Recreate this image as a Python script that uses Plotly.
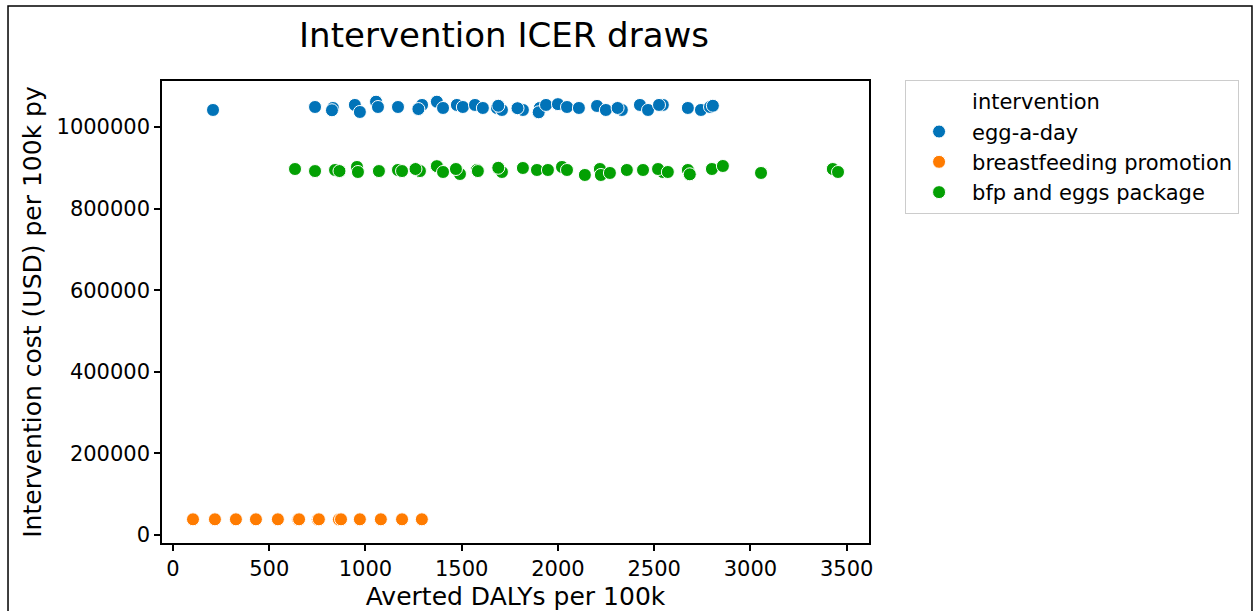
import plotly.graph_objects as go

# ---- data ----
egg_x = [208, 738, 831, 826, 945, 971, 1055, 1065, 1169, 1294, 1275, 1371, 1403, 1475, 1506,
         1569, 1610, 1683, 1709, 1690, 1818, 1790, 1906, 1900, 1938, 2000, 2047, 2109, 2203,
         2249, 2332, 2310, 2426, 2468, 2545, 2525, 2675, 2743, 2790, 2805]
egg_y = [1041700, 1049000, 1046600, 1041000, 1054000, 1036800, 1062000, 1049000, 1049000,
         1054000, 1044000, 1062000, 1046600, 1054000, 1049000, 1054000, 1046600, 1046600,
         1041700, 1052000, 1041700, 1046000, 1046600, 1036000, 1054000, 1056000, 1049000,
         1046600, 1051500, 1041700, 1041700, 1046600, 1054000, 1041700, 1054000, 1054000,
         1046600, 1041700, 1049000, 1052000]

bfp_x = [104, 218, 327, 431, 545, 650, 655, 752, 758, 862, 873, 971, 1080, 1190, 1293]
bfp_y = [38500, 38500, 38500, 38500, 38500, 38000, 38500, 38000, 38500, 38000, 38500,
         38500, 38500, 38500, 38500]

pkg_x = [634, 738, 842, 865, 956, 961, 1070, 1169, 1190, 1283, 1260, 1371, 1403, 1491, 1470,
         1579, 1584, 1709, 1690, 1818, 1891, 1948, 2021, 2047, 2140, 2218, 2223, 2270, 2358,
         2442, 2545, 2520, 2571, 2675, 2685, 2800, 2857, 3055, 3428, 3455]
pkg_y = [897000, 892000, 894600, 892000, 902000, 889700, 892000, 894600, 892000, 892000,
         897000, 904000, 889700, 884800, 897000, 894600, 892000, 889700, 900000, 899500,
         894600, 894600, 902000, 894600, 882400, 897000, 882400, 887300, 894600, 894600,
         889700, 897000, 889700, 894600, 884000, 897000, 904400, 887300, 897000, 889700]

x_ticks = [0, 500, 1000, 1500, 2000, 2500, 3000, 3500]
y_ticks = [0, 200000, 400000, 600000, 800000, 1000000]

series = [
    ("egg-a-day", egg_x, egg_y, "#0173b8"),
    ("breastfeeding promotion", bfp_x, bfp_y, "#ff7b00"),
    ("bfp and eggs package", pkg_x, pkg_y, "#03a003"),
]

FONT = "DejaVu Sans"

fig = go.Figure()
# legend title as an invisible entry (indented like seaborn's)
fig.add_trace(go.Scatter(x=[None], y=[None], mode="markers", name="intervention",
                         marker=dict(color="rgba(0,0,0,0)", size=13)))
for name, xs, ys, col in series:
    fig.add_trace(go.Scatter(x=xs, y=ys, mode="markers", name=name,
                             marker=dict(color=col, size=13,
                                         line=dict(color="white", width=1))))

axis_common = dict(showline=True, linecolor="black", linewidth=1.5, mirror=True,
                   ticks="outside", ticklen=6, tickwidth=1.5, tickcolor="black",
                   showgrid=False, zeroline=False, automargin=False,
                   tickfont=dict(family=FONT, size=21, color="black"))

fig.update_layout(
    width=1257, height=611,
    margin=dict(l=162, r=388, t=81, b=68),
    paper_bgcolor="white", plot_bgcolor="white",
    font=dict(family=FONT, color="black"),
    title=dict(text="Intervention ICER draws", x=0.401, xanchor="center",
               y=0.943, yanchor="middle", xref="container", yref="container",
               automargin=False,
               font=dict(family=FONT, size=34, color="black")),
    xaxis=dict(range=[-57, 3616], tickvals=x_ticks, tickformat="d",
               title=dict(text="Averted DALYs per 100k", standoff=8,
                          font=dict(family=FONT, size=25, color="black")),
               **axis_common),
    yaxis=dict(range=[-19600, 1112700], tickvals=y_ticks, tickformat="d",
               title=dict(text="Intervention cost (USD) per 100k py", standoff=8,
                          font=dict(family=FONT, size=25, color="black")),
               **axis_common),
    legend=dict(x=1.051, y=1.002, xanchor="left", yanchor="top",
                bordercolor="#cccccc", borderwidth=1, bgcolor="white",
                font=dict(family=FONT, size=21, color="black"),
                itemsizing="trace", itemwidth=56),
    showlegend=True,
)

# outer figure frame
fig.add_shape(type="rect", xref="paper", yref="paper",
              x0=-0.2178, x1=1.5417, y0=-0.25, y1=1.1623,
              line=dict(color="black", width=1.5), fillcolor="rgba(0,0,0,0)",
              layer="below")

fig.write_html("out.html")
